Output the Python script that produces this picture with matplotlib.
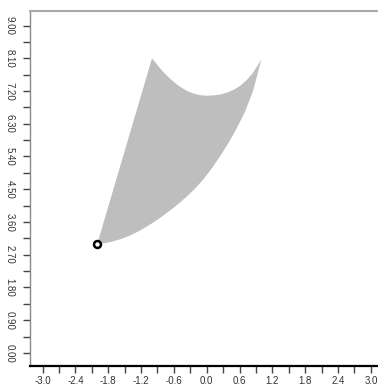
import numpy as np
import matplotlib.pyplot as plt
from matplotlib.ticker import MultipleLocator, FuncFormatter

# outline of the shaded region
# left edge: start point up to the left peak
left_x = [-2.0, -1.0]
left_y = [3.0, 8.1]
# top edge: left peak to right peak
top_x = [-0.93, -0.85, -0.76, -0.67, -0.58, -0.49, -0.37, -0.25, -0.12,
         0.0, 0.12, 0.24, 0.37, 0.49, 0.61, 0.73, 0.84, 0.94, 1.0]
top_y = [7.97, 7.82, 7.67, 7.54, 7.42, 7.32, 7.21, 7.135, 7.085,
         7.07, 7.08, 7.10, 7.155, 7.23, 7.34, 7.50, 7.69, 7.92, 8.08]
# lower edge: right peak back down to the start point
low_x = [0.85, 0.70, 0.55, 0.40, 0.25, 0.10, -0.05, -0.20, -0.35, -0.50,
         -0.65, -0.80, -0.95, -1.10, -1.25, -1.40, -1.55, -1.70, -1.85, -2.0]
low_y = [7.22, 6.63, 6.18, 5.78, 5.42, 5.09, 4.79, 4.54, 4.32, 4.12,
         3.94, 3.77, 3.61, 3.47, 3.34, 3.23, 3.14, 3.07, 3.02, 3.0]

# marked point
pt_x = [-2.0]
pt_y = [3.0]

plt.rcParams['font.family'] = ['Liberation Sans', 'DejaVu Sans']
plt.rcParams['axes.unicode_minus'] = False

fig = plt.figure(figsize=(3.78, 3.85), dpi=100)
ax = fig.add_axes([30/378, 1 - 366/385, 1 - 30/378, 355/385])

xs = left_x + top_x + low_x
ys = left_y + top_y + low_y
ax.fill(xs, ys, color='#bebebe', linewidth=0)
ax.plot(pt_x, pt_y, 'o', markersize=5, markerfacecolor='white',
        markeredgecolor='black', markeredgewidth=1.8, zorder=3)

ax.set_xlim(-3.23, 3.13)
ax.set_ylim(-0.36, 9.40)

ax.xaxis.set_major_locator(MultipleLocator(0.6))
ax.xaxis.set_minor_locator(MultipleLocator(0.3))
ax.yaxis.set_major_locator(MultipleLocator(0.9))
ax.yaxis.set_minor_locator(MultipleLocator(0.45))
# round first so 0 never shows as -0.0
ax.xaxis.set_major_formatter(FuncFormatter(lambda v, p: '%.1f' % (round(v, 6) + 0.0)))
ax.yaxis.set_major_formatter(FuncFormatter(lambda v, p: '%.2f' % (round(v, 6) + 0.0)))

ax.tick_params(which='both', direction='out', length=5, width=1,
               color='#444444', labelsize=7, labelcolor='#333333')
ax.tick_params(axis='x', pad=2)
ax.tick_params(axis='y', pad=6)
for lab in ax.get_yticklabels():
    lab.set_rotation(270)
    lab.set_va('center')

ax.spines['right'].set_visible(False)
ax.spines['top'].set_color('#aaaaaa')
ax.spines['top'].set_linewidth(1.5)
ax.spines['left'].set_color('#888888')
ax.spines['left'].set_linewidth(1)
ax.spines['bottom'].set_color('black')
ax.spines['bottom'].set_linewidth(1.6)

fig.savefig('out.png', dpi=100)
